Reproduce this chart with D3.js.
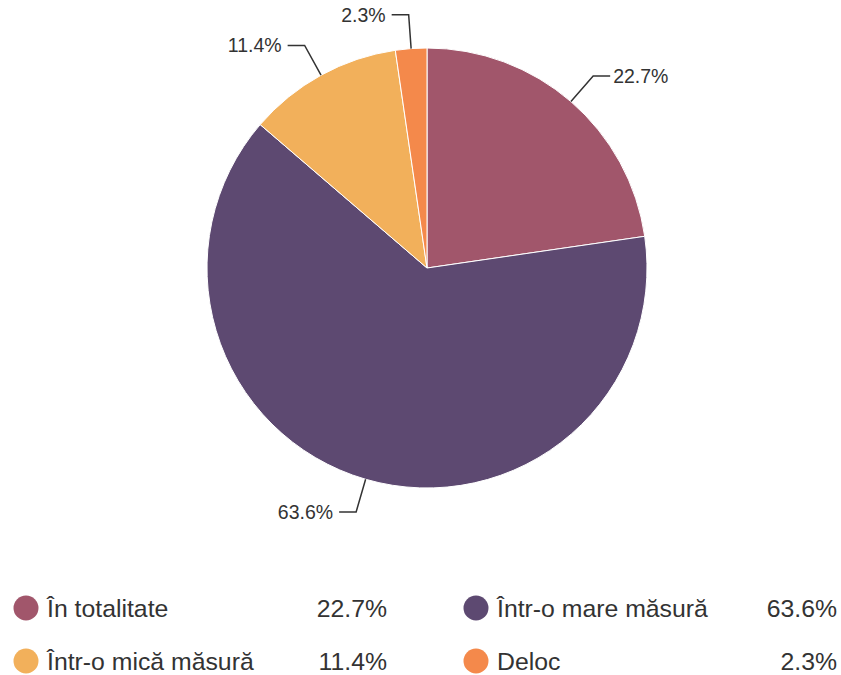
<!DOCTYPE html>
<html>
<head>
<meta charset="utf-8">
<script src="https://cdn.jsdelivr.net/npm/d3@7"></script>
<style>
  html, body { margin: 0; padding: 0; background: #fff; }
  svg { display: block; font-family: "Liberation Sans", Arial, sans-serif; }
</style>
</head>
<body>
<svg id="chart" width="841" height="675"></svg>
<script>
const categories = ["În totalitate", "Într-o mare măsură", "Într-o mică măsură", "Deloc"];
const values = [22.7, 63.6, 11.4, 2.3];
const valueLabels = ["22.7%", "63.6%", "11.4%", "2.3%"];
const colors = ["#a1566b", "#5d4971", "#f2b05b", "#f4894b"];

const svg = d3.select("#chart");
const cx = 427, cy = 268, r = 220, rElbow = 254;

const data = categories.map((c, i) => ({ cat: c, value: values[i], label: valueLabels[i], color: colors[i] }));
const pie = d3.pie().sort(null).value(d => d.value);
const arcs = pie(data);
const arc = d3.arc().innerRadius(0).outerRadius(r);

const g = svg.append("g").attr("transform", `translate(${cx},${cy})`);
g.selectAll("path.slice").data(arcs).enter().append("path")
  .attr("class", "slice")
  .attr("d", arc)
  .attr("fill", d => d.data.color)
  .attr("stroke", "#fff")
  .attr("stroke-width", 1);

// leader lines and labels
arcs.forEach(d => {
  const a = (d.startAngle + d.endAngle) / 2;
  const p0 = [r * Math.sin(a), -r * Math.cos(a)];
  const p1 = [rElbow * Math.sin(a), -rElbow * Math.cos(a)];
  const right = Math.sin(a) >= 0;
  const p2 = [p1[0] + (right ? 17 : -17), p1[1]];
  g.append("polyline")
    .attr("points", [p0, p1, p2].map(p => p.join(",")).join(" "))
    .attr("fill", "none")
    .attr("stroke", "#333")
    .attr("stroke-width", 1.5);
  g.append("text")
    .attr("x", p2[0] + (right ? 3 : -6))
    .attr("y", p1[1])
    .attr("dy", "0.36em")
    .attr("text-anchor", right ? "start" : "end")
    .attr("font-size", 19.5)
    .attr("fill", "#333")
    .text(d.data.label);
});

// legend
const legendCols = [{ cx: 26, tx: 47, vx: 387 }, { cx: 476, tx: 497, vx: 837 }];
const legendRows = [608, 661];
data.forEach((d, i) => {
  const col = legendCols[i % 2];
  const y = legendRows[Math.floor(i / 2)];
  svg.append("circle").attr("cx", col.cx).attr("cy", y).attr("r", 12.5).attr("fill", d.color);
  svg.append("text").attr("x", col.tx).attr("y", y).attr("dy", "0.36em")
    .attr("font-size", 24.8).attr("fill", "#333").text(d.cat);
  svg.append("text").attr("x", col.vx).attr("y", y).attr("dy", "0.36em")
    .attr("text-anchor", "end").attr("font-size", 24.8).attr("fill", "#333").text(d.label);
});
</script>
</body>
</html>
